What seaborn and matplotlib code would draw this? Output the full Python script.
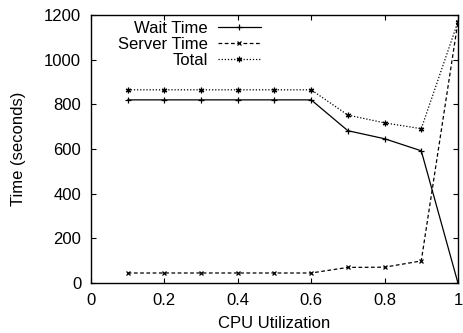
import matplotlib
matplotlib.use("Agg")
import matplotlib.pyplot as plt
import seaborn as sns
import pandas as pd

cpu = [0.1, 0.2, 0.3, 0.4, 0.5, 0.6, 0.7, 0.8, 0.9, 1.0]
wait_time = [820, 820, 820, 820, 820, 820, 682, 646, 592, 0]
server_time = [45, 45, 45, 45, 45, 45, 70, 71, 99, 1170]
total_time = [865, 865, 865, 865, 865, 865, 752, 717, 691, 1170]

series_names = ["Wait Time", "Server Time", "Total"]
x_ticks = [0, 0.2, 0.4, 0.6, 0.8, 1]
x_tick_labels = ["0", "0.2", "0.4", "0.6", "0.8", "1"]
y_ticks = [0, 200, 400, 600, 800, 1000, 1200]

df = pd.DataFrame({
    "cpu": cpu * 3,
    "time": wait_time + server_time + total_time,
    "series": [series_names[0]] * len(cpu) + [series_names[1]] * len(cpu) + [series_names[2]] * len(cpu),
})

sns.set_theme(style="ticks")
plt.rcParams["font.family"] = ["Liberation Sans", "DejaVu Sans"]
plt.rcParams["text.color"] = "black"
plt.rcParams["axes.labelcolor"] = "black"
plt.rcParams["xtick.color"] = "black"
plt.rcParams["ytick.color"] = "black"

fig = plt.figure(figsize=(4.64, 3.33), dpi=100)
ax = fig.add_axes([0.196, 0.150, 0.791, 0.805])

styles = {
    "Wait Time": dict(linestyle="-", marker="+", ms=5),
    "Server Time": dict(linestyle=(0, (3, 2)), marker="x", ms=3.5),
    "Total": dict(linestyle=(0, (1, 1.5)), marker=(6, 2, 0), ms=4),
}
for name in series_names:
    sub = df[df["series"] == name]
    sns.lineplot(data=sub, x="cpu", y="time", ax=ax, color="black", lw=0.9,
                 label=name, markeredgewidth=0.9, markeredgecolor="black",
                 **styles[name])

ax.set_xlim(0, 1)
ax.set_ylim(0, 1200)
ax.set_xticks(x_ticks)
ax.set_xticklabels(x_tick_labels)
ax.set_yticks(y_ticks)
ax.tick_params(direction="in", length=3.3, width=0.8, top=True, right=True,
               labelsize=12, pad=7, colors="black")
for s in ax.spines.values():
    s.set_linewidth(1.0)
    s.set_color("black")
ax.set_xlabel("CPU Utilization", fontsize=12, labelpad=6, color="black")
ax.set_ylabel("Time (seconds)", fontsize=12, labelpad=13, color="black")

leg = ax.legend(loc="upper right", bbox_to_anchor=(261 / 464, 1 - 21 / 333),
                bbox_transform=fig.transFigure, markerfirst=False,
                frameon=False, fontsize=12, handlelength=2.6, handletextpad=0.6,
                labelspacing=0.06, borderaxespad=0, borderpad=0)
for t in leg.get_texts():
    t.set_ha("right")
    t.set_color("black")
leg._legend_box.align = "right"

fig.savefig("out.png", dpi=100)
